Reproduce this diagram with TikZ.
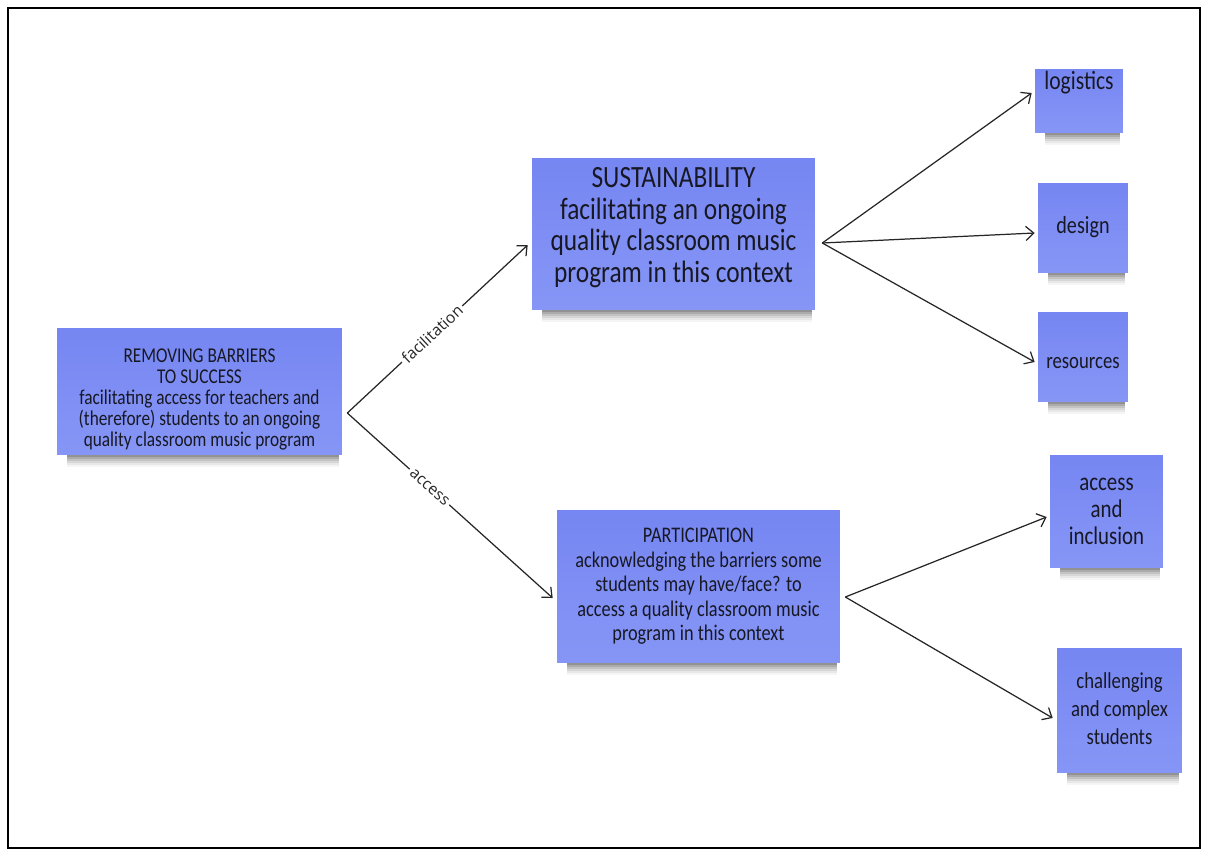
\documentclass[tikz,border=0pt]{standalone}
\usepackage{fontspec}
\setmainfont{Carlito}
\newfontfamily\notefont[FakeStretch=0.82]{Carlito}
\newfontfamily\labelfont{Open Sans}
\usetikzlibrary{arrows.meta,calc,backgrounds}

\definecolor{notetop}{RGB}{118,134,242}
\definecolor{notebot}{RGB}{134,150,246}
\definecolor{ink}{RGB}{24,24,36}
\definecolor{wire}{RGB}{38,38,38}

\tikzset{
  sticky/.style={rectangle, inner sep=0pt, draw=none,
    top color=notetop, bottom color=notebot},
  notetext/.style={align=center, text=ink, inner sep=0pt},
  link/.style={draw=wire, line width=0.7pt, -{Straight Barb[length=4.5pt,width=8pt]}},
  linklabel/.style={font=\labelfont\fontsize{9}{10}\selectfont, fill=white,
    inner sep=1.5pt, sloped, text=wire},
}

% soft drop shadow under the bottom edge of a note
\newcommand\notedrop[1]{%
  \foreach \d/\o in {12/0.04,10/0.05,8/0.07,6/0.09,4/0.12,2/0.14}{%
    \fill[black, opacity=\o] ($(#1.south west)+(10,-3)$) rectangle ($(#1.south east)+(-3,\d)$);
  }%
}

\begin{document}
\begin{tikzpicture}[x=0.02cm, y=-0.02cm]
  \useasboundingbox (0,0) rectangle (1208,856);

  % sticky notes
  \node[sticky, minimum width=5.70cm, minimum height=2.54cm] (root) at (199.5,391.5) {};
  \node[sticky, minimum width=5.66cm, minimum height=3.04cm] (sus) at (673.5,234) {};
  \node[sticky, minimum width=5.66cm, minimum height=3.06cm] (par) at (698.5,586.5) {};
  \node[sticky, minimum width=1.76cm, minimum height=1.28cm] (log) at (1079,101) {};
  \node[sticky, minimum width=1.80cm, minimum height=1.80cm] (des) at (1083,228) {};
  \node[sticky, minimum width=1.80cm, minimum height=1.80cm] (res) at (1083,357) {};
  \node[sticky, minimum width=2.26cm, minimum height=2.26cm] (acc) at (1106.5,511.5) {};
  \node[sticky, minimum width=2.50cm, minimum height=2.50cm] (cha) at (1119.5,710.5) {};

  % page, frame and shadows behind the notes
  \begin{pgfonlayer}{background}
    \fill[white] (0,0) rectangle (1208,856);
    \foreach \n in {root,sus,par,log,des,res,acc,cha}{\notedrop{\n}}
  \end{pgfonlayer}
  \draw[line width=1.2pt, black] (8,8) rectangle (1200,848);

  % note texts
  \node[notetext, font=\notefont\fontsize{12}{11.9}\selectfont] (roott) at ($(root.center)+(0,8)$)
    {REMOVING BARRIERS\\TO SUCCESS\\facilitating access for teachers and\\(therefore) students to an ongoing\\quality classroom music program};
  \node[notetext, font=\notefont\fontsize{17.6}{18}\selectfont] (sust) at ($(sus.center)+(0,-6.5)$)
    {SUSTAINABILITY\\facilitating an ongoing\\quality classroom music\\program in this context};
  \node[notetext, font=\notefont\fontsize{12.7}{13.9}\selectfont] (part) at ($(par.center)+(0,0)$)
    {PARTICIPATION\\acknowledging the barriers some\\students may have/face? to\\access a quality classroom music\\program in this context};
  \node[notetext, font=\notefont\fontsize{15}{16}\selectfont] (logt) at ($(log.center)+(0,-18)$) {logistics};
  \node[notetext, font=\notefont\fontsize{14}{16}\selectfont] (dest) at ($(des.center)+(0,-1)$) {design};
  \node[notetext, font=\notefont\fontsize{13}{14}\selectfont] (rest) at ($(res.center)+(0,6)$) {resources};
  \node[notetext, font=\notefont\fontsize{14.5}{15.5}\selectfont] (acct) at ($(acc.center)+(0,0)$) {access\\and\\inclusion};
  \node[notetext, font=\notefont\fontsize{13}{16}\selectfont] (chat) at ($(cha.center)+(0,-2)$) {challenging\\and complex\\students};

  % branching points
  \coordinate (rootout) at ($(root.east)+(5,21.5)$);
  \coordinate (susout) at ($(sus.east)+(7,9)$);
  \coordinate (parout) at ($(par.east)+(5,10.5)$);

  % connectors
  \draw[link] (rootout) -- node[linklabel, pos=0.47] {facilitation} ($(sus.west)+(-4,11)$);
  \draw[link] (rootout) -- node[linklabel, pos=0.40] {access} ($(par.west)+(-4,11.5)$);

  \draw[link] (susout) -- ($(log.west)+(-3,-8)$);
  \draw[link] (susout) -- ($(des.west)+(-3,5)$);
  \draw[link] (susout) -- ($(res.west)+(-3,5)$);

  \draw[link] (parout) -- ($(acc.west)+(-3,5.5)$);
  \draw[link] (parout) -- ($(cha.west)+(-4,7.5)$);
\end{tikzpicture}
\end{document}
